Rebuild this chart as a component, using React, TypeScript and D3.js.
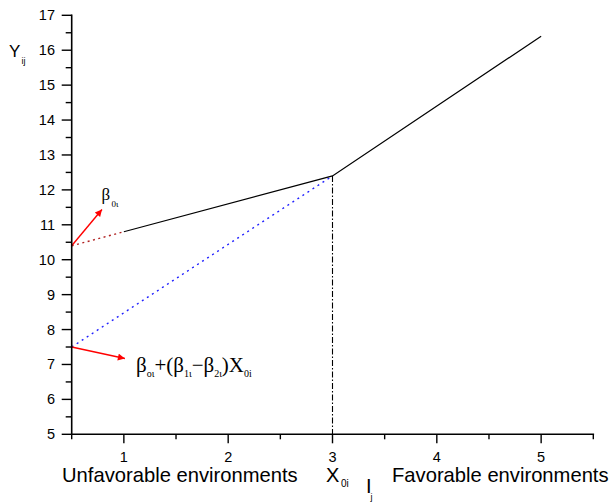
import React from "react";
import * as d3 from "d3";

const W = 613;
const H = 504;

// Data
const segX = [1, 3, 5];
const segY = [10.8, 12.4, 16.4];
const redDotX = [0.5, 1];
const redDotY = [10.4, 10.8];
const blueDotX = [0.5, 3];
const blueDotY = [7.5, 12.4];
const breakX = [3, 3];
const breakY = [12.4, 5];
const arrow1 = [[0.5, 10.4], [0.79, 11.44]];
const arrow2 = [[0.5, 7.5], [1.01, 7.17]];
const xMajor = [1, 2, 3, 4, 5];
const xMinor = [0.5, 1.5, 2.5, 3.5, 4.5, 5.5];
const yMajor = [5, 6, 7, 8, 9, 10, 11, 12, 13, 14, 15, 16, 17];
const yMinor = [5.5, 6.5, 7.5, 8.5, 9.5, 10.5, 11.5, 12.5, 13.5, 14.5, 15.5, 16.5];

const SANS = "'Liberation Sans', Arial, sans-serif";
const SERIF = "'Liberation Serif', 'Times New Roman', serif";

export default function App() {
  const x = d3.scaleLinear().domain([0.5, 5.5]).range([71.7, 593.3]);
  const y = d3.scaleLinear().domain([5, 17]).range([434.3, 15.3]);
  const line = d3
    .line<[number, number]>()
    .x((d) => x(d[0]))
    .y((d) => y(d[1]));
  const zip = (a: number[], b: number[]) => a.map((v, i) => [v, b[i]] as [number, number]);

  const x0 = x(0.5);
  const yBase = y(5);

  return (
    <svg
      width={W}
      height={H}
      style={{ position: "absolute", left: 0, top: 0, background: "#fff" }}
    >
      <defs>
        <marker id="ah" viewBox="0 0 10 10" refX="10" refY="5" markerWidth="9" markerHeight="7" markerUnits="userSpaceOnUse" orient="auto">
          <path d="M0,0 L10,5 L0,10 z" fill="#ff0000" />
        </marker>
      </defs>

      {/* data lines */}
      <path d={line(zip(redDotX, redDotY)) || ""} fill="none" stroke="#b02020" strokeWidth={1.4} strokeDasharray="2,3.5" />
      <path d={line(zip(blueDotX, blueDotY)) || ""} fill="none" stroke="#2020ff" strokeWidth={1.4} strokeDasharray="2,4" />
      <path d={line(zip(breakX, breakY)) || ""} fill="none" stroke="#000" strokeWidth={1.1} strokeDasharray="6,2,1.5,2" />
      <path d={line(zip(segX, segY)) || ""} fill="none" stroke="#000" strokeWidth={1.2} />

      {/* arrows */}
      <path d={line(arrow1 as [number, number][]) || ""} fill="none" stroke="#ff0000" strokeWidth={1.4} markerEnd="url(#ah)" />
      <path d={line(arrow2 as [number, number][]) || ""} fill="none" stroke="#ff0000" strokeWidth={1.4} markerEnd="url(#ah)" />

      {/* axes */}
      <line x1={x0} y1={y(17) - 0.8} x2={x0} y2={yBase} stroke="#000" strokeWidth={1.6} />
      <line x1={x0} y1={yBase} x2={x(5.5) + 0.8} y2={yBase} stroke="#000" strokeWidth={1.6} />
      {yMajor.map((v) => (
        <g key={"ym" + v}>
          <line x1={x0 - 10} x2={x0} y1={y(v)} y2={y(v)} stroke="#000" strokeWidth={1.4} />
          <text x={55} y={y(v) + 5} textAnchor="end" fontFamily={SANS} fontSize={14.5} fill="#000">
            {v}
          </text>
        </g>
      ))}
      {yMinor.map((v) => (
        <line key={"yn" + v} x1={x0 - 6} x2={x0} y1={y(v)} y2={y(v)} stroke="#000" strokeWidth={1.4} />
      ))}
      {xMajor.map((v) => (
        <g key={"xm" + v}>
          <line x1={x(v)} x2={x(v)} y1={yBase} y2={yBase + 9} stroke="#000" strokeWidth={1.4} />
          <text x={x(v)} y={462} textAnchor="middle" fontFamily={SANS} fontSize={14.5} fill="#000">
            {v}
          </text>
        </g>
      ))}
      {xMinor.map((v) => (
        <line key={"xn" + v} x1={x(v)} x2={x(v)} y1={yBase} y2={yBase + 5} stroke="#000" strokeWidth={1.4} />
      ))}

      {/* axis titles */}
      <text x={9} y={56.7} fontFamily={SANS} fontSize={17} fill="#000">Y</text>
      <text x={21.5} y={64} fontFamily={SANS} fontSize={9} fill="#000">ij</text>

      <text x={62} y={482} fontFamily={SANS} fontSize={20.2} fill="#000">Unfavorable environments</text>
      <text x={392} y={482} fontFamily={SANS} fontSize={20.2} fill="#000">Favorable environments</text>
      <text x={326} y={482} fontFamily={SANS} fontSize={20} fill="#000">X</text>
      <text x={341} y={487} fontFamily={SANS} fontSize={10} fill="#000">0i</text>
      <text x={366} y={493} fontFamily={SANS} fontSize={20} fill="#000">I</text>
      <text x={370.5} y={500} fontFamily={SANS} fontSize={9} fill="#000">j</text>

      {/* annotations */}
      <text x={101.5} y={200} fontFamily={SERIF} fontSize={17} fill="#000">β</text>
      <text x={111.5} y={207} fontFamily={SERIF} fontSize={9} fill="#000">0ι</text>

      <text x={136} y={372} fontFamily={SERIF} fontSize={21} fill="#000">
        <tspan>β</tspan>
        <tspan fontSize={10} dy={5}>οι</tspan>
        <tspan dy={-5}>+(β</tspan>
        <tspan fontSize={10} dy={5}>1ι</tspan>
        <tspan dy={-5}>−β</tspan>
        <tspan fontSize={10} dy={5}>2ι</tspan>
        <tspan dy={-5}>)X</tspan>
        <tspan fontSize={10} dy={5}>0i</tspan>
      </text>
    </svg>
  );
}
